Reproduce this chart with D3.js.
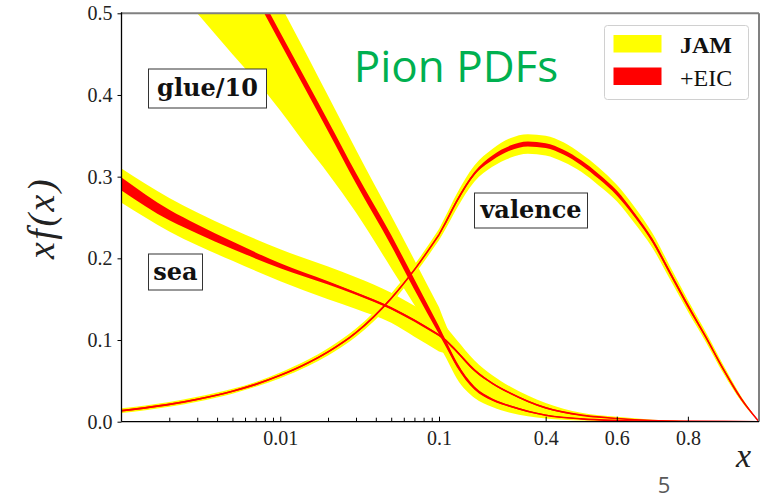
<!DOCTYPE html>
<html><head><meta charset="utf-8">
<script src="https://cdn.jsdelivr.net/npm/d3@7"></script>
<style>body{margin:0;background:#fff}</style>
</head><body><svg id="c" width="767" height="501"></svg>
<script>
// ---------- data ----------
const yTicks = [0, 0.1, 0.2, 0.3, 0.4, 0.5];
const xLogTicks = [0.01, 0.1];
const xLogTickLabels = ["0.01", "0.1"];
const xLogMinor = [0.002,0.003,0.004,0.005,0.006,0.007,0.008,0.009,0.02,0.03,0.04,0.05,0.06,0.07,0.08,0.09];
const xLinTicks = [0.4, 0.6, 0.8];
const xLinTickLabels = ["0.4", "0.6", "0.8"];
const seriesNames = ["JAM", "+EIC"];
const curveLabels = ["glue/10", "sea", "valence"];

const valX = [0.001,0.002,0.003,0.005,0.007,0.01,0.015,0.02,0.03,0.05,0.07,0.1,0.12,0.15,0.2,0.25,0.3,0.35,0.4,0.45,0.5,0.55,0.6,0.65,0.7,0.75,0.8,0.85,0.9,0.95,1.0];
const valMid = [0.0135,0.0212,0.0274,0.0373,0.0457,0.0568,0.0722,0.0855,0.109,0.151,0.186,0.229,0.245,0.270,0.304,0.323,0.335,0.340,0.338,0.330,0.317,0.300,0.280,0.253,0.222,0.182,0.142,0.104,0.064,0.028,0.0];
const valJamLo = [0.0105,0.0182,0.0244,0.0343,0.0427,0.0533,0.0682,0.081,0.104,0.145,0.180,0.222,0.237,0.261,0.294,0.312,0.323,0.328,0.326,0.318,0.306,0.289,0.270,0.243,0.213,0.174,0.135,0.098,0.059,0.025,0.0];
const valJamHi = [0.0165,0.0242,0.0304,0.0403,0.0487,0.0603,0.0762,0.090,0.114,0.157,0.192,0.236,0.253,0.279,0.314,0.334,0.347,0.352,0.350,0.342,0.328,0.311,0.290,0.263,0.231,0.190,0.149,0.110,0.069,0.031,0.0];
const valEicLo = [0.0125,0.0202,0.0264,0.0363,0.0447,0.0558,0.0712,0.0845,0.108,0.150,0.185,0.228,0.243,0.268,0.302,0.320,0.332,0.337,0.335,0.327,0.314,0.297,0.277,0.2505,0.2195,0.1795,0.1395,0.1025,0.0625,0.0265,0.0];
const valEicHi = [0.0145,0.0222,0.0284,0.0383,0.0467,0.0578,0.0732,0.0865,0.110,0.152,0.187,0.230,0.247,0.272,0.306,0.326,0.338,0.343,0.341,0.333,0.320,0.303,0.283,0.2555,0.2245,0.1845,0.1445,0.1055,0.0655,0.0295,0.0];

const seaX = [0.001,0.002,0.003,0.005,0.01,0.02,0.03,0.05,0.07,0.1,0.12,0.15,0.2,0.25,0.3,0.4,0.5,0.6,0.7,0.8,0.9,1.0];
const seaMid = [0.291,0.253,0.236,0.216,0.191,0.170,0.157,0.139,0.124,0.106,0.099,0.086,0.063,0.047,0.035,0.017,0.008,0.004,0.0015,0.0005,0.0001,0.0];
const seaJamLo = [0.268,0.233,0.216,0.197,0.172,0.150,0.138,0.121,0.104,0.086,0.083,0.073,0.052,0.038,0.027,0.012,0.005,0.002,0.0007,0.0002,0.0,0.0];
const seaJamHi = [0.310,0.274,0.256,0.236,0.211,0.190,0.177,0.158,0.142,0.127,0.116,0.100,0.075,0.057,0.043,0.023,0.011,0.006,0.0025,0.0008,0.0002,0.0];
const seaEicLo = [0.283,0.2465,0.2305,0.2115,0.188,0.168,0.1555,0.1375,0.1225,0.1045,0.0975,0.0845,0.0615,0.046,0.034,0.016,0.0075,0.0037,0.0013,0.0004,0.0001,0.0];
const seaEicHi = [0.299,0.2595,0.2415,0.2205,0.194,0.172,0.1585,0.1405,0.1255,0.1075,0.1005,0.0875,0.0645,0.048,0.036,0.018,0.0085,0.0043,0.0017,0.0006,0.0001,0.0];

const glueX = [0.003,0.005,0.008,0.01,0.015,0.02,0.03,0.05,0.07,0.1,0.12,0.15,0.2,0.25,0.3,0.4,0.5,0.6,0.7,0.8,0.9,1.0];
const glueMid = [0.658,0.578,0.505,0.470,0.407,0.362,0.298,0.222,0.168,0.112,0.095,0.070,0.041,0.027,0.019,0.008,0.0035,0.0015,0.0006,0.0002,0.0001,0.0];
const glueJamLo = [0.500,0.450,0.405,0.381,0.335,0.304,0.256,0.188,0.143,0.094,0.078,0.053,0.029,0.018,0.011,0.004,0.0015,0.0005,0.0002,0.0,0.0,0.0];
const glueJamHi = [0.703,0.621,0.548,0.511,0.446,0.399,0.333,0.252,0.198,0.140,0.118,0.090,0.057,0.040,0.029,0.014,0.007,0.003,0.0012,0.0004,0.0001,0.0];
const glueEicLo = [0.6515,0.5715,0.4985,0.4635,0.4005,0.3555,0.2915,0.2155,0.1615,0.107,0.091,0.067,0.039,0.0255,0.018,0.0072,0.003,0.0012,0.0004,0.0001,0.0,0.0];
const glueEicHi = [0.6645,0.5845,0.5115,0.4765,0.4135,0.3685,0.3045,0.2285,0.1745,0.117,0.099,0.073,0.043,0.0285,0.020,0.0088,0.004,0.0018,0.0008,0.0003,0.0001,0.0];

// ---------- layout ----------
const svg = d3.select('#c');
const L = 121.5, R = 759, T = 13.3, B = 421.7, XB = 439, XBREAK = 0.1;
const xLog = d3.scaleLog().domain([0.001, XBREAK]).range([L, XB]);
const xLin = d3.scaleLinear().domain([XBREAK, 1]).range([XB, R]);
const xs = v => (v <= XBREAK ? xLog(v) : xLin(v));
const y = d3.scaleLinear().domain([0, 0.5]).range([B, T]);

const YEL = '#ffff00', RED = '#ff0000';
const SERIF = '"Liberation Serif", "Times New Roman", serif';

svg.append('defs').append('clipPath').attr('id', 'clip')
  .append('rect').attr('x', L).attr('y', T).attr('width', R - L).attr('height', B - T);
const plot = svg.append('g').attr('clip-path', 'url(#clip)');

// the two halves of the axis (log / linear) are drawn as separate smooth pieces
function pieces(X) {
  const a = [], b = [];
  X.forEach((v, i) => { if (v <= XBREAK) a.push(i); if (v >= XBREAK) b.push(i); });
  return [a, b];
}
function band(X, lo, hi, color) {
  const area = d3.area()
    .x(i => xs(X[i])).y0(i => y(lo[i])).y1(i => y(hi[i]))
    .curve(d3.curveMonotoneX);
  pieces(X).forEach(idx => plot.append('path').datum(idx).attr('d', area).attr('fill', color));
}
function line(X, mid) {
  const ln = d3.line().x(i => xs(X[i])).y(i => y(mid[i])).curve(d3.curveMonotoneX);
  pieces(X).forEach(idx => plot.append('path').datum(idx).attr('d', ln).attr('fill', 'none')
    .attr('stroke', RED).attr('stroke-width', 1.6).attr('stroke-linecap', 'butt'));
}

// yellow bands (JAM)
band(seaX, seaJamLo, seaJamHi, YEL);
band(glueX, glueJamLo, glueJamHi, YEL);
band(valX, valJamLo, valJamHi, YEL);
// red bands (+EIC)
band(seaX, seaEicLo, seaEicHi, RED);
band(glueX, glueEicLo, glueEicHi, RED);
band(valX, valEicLo, valEicHi, RED);
line(seaX, seaMid);
line(glueX, glueMid);
line(valX, valMid);

// ---------- axes ----------
function styleAxis(g, size) {
  g.select('.domain').remove();
  g.selectAll('.tick line').attr('stroke', '#000').attr('stroke-width', 1);
  g.selectAll('.tick text').attr('font-family', SERIF).attr('font-size', size).attr('fill', '#222');
}
const yAx = svg.append('g').attr('transform', `translate(${L},0)`)
  .call(d3.axisLeft(y).tickValues(yTicks).tickFormat(d3.format('.1f')).tickSize(4).tickPadding(5));
styleAxis(yAx, 20);

const xAx1 = svg.append('g').attr('transform', `translate(0,${B})`)
  .call(d3.axisBottom(xLog).tickValues(xLogTicks).tickFormat((d, i) => xLogTickLabels[i])
    .tickSizeInner(-5).tickSizeOuter(0).tickPadding(9));
styleAxis(xAx1, 20);
const xAxM = svg.append('g').attr('transform', `translate(0,${B})`)
  .call(d3.axisBottom(xLog).tickValues(xLogMinor).tickFormat('').tickSizeInner(-4).tickSizeOuter(0));
styleAxis(xAxM, 20);
const xAx2 = svg.append('g').attr('transform', `translate(0,${B})`)
  .call(d3.axisBottom(xLin).tickValues(xLinTicks).tickFormat((d, i) => xLinTickLabels[i])
    .tickSizeInner(-5).tickSizeOuter(0).tickPadding(9));
styleAxis(xAx2, 20);

// frame
svg.append('line').attr('x1', L).attr('x2', R).attr('y1', T).attr('y2', T).attr('stroke', '#808080').attr('stroke-width', 2);
svg.append('line').attr('x1', R).attr('x2', R).attr('y1', T).attr('y2', B).attr('stroke', '#808080').attr('stroke-width', 2);
svg.append('line').attr('x1', L).attr('x2', L).attr('y1', T - 1).attr('y2', B).attr('stroke', '#000').attr('stroke-width', 1.3);
svg.append('line').attr('x1', L).attr('x2', R).attr('y1', B).attr('y2', B).attr('stroke', '#000').attr('stroke-width', 1.3);

// axis titles
svg.append('text').attr('transform', 'translate(54,218) rotate(-90)').attr('text-anchor', 'middle')
  .attr('font-family', SERIF).attr('font-style', 'italic').attr('font-size', 38).attr('fill', '#222')
  .attr('letter-spacing', 2.5).text('xf(x)');
svg.append('text').attr('x', 743.5).attr('y', 467).attr('text-anchor', 'middle')
  .attr('font-family', SERIF).attr('font-style', 'italic').attr('font-size', 34).attr('fill', '#222').text('x');

// title
svg.append('text').attr('x', 456).attr('y', 82).attr('text-anchor', 'middle')
  .attr('font-family', '"Open Sans", sans-serif').attr('font-size', 44).attr('fill', '#00b050').text('Pion PDFs');

// curve labels
function boxLabel(txt, x0, y0, w, h, base) {
  svg.append('rect').attr('x', x0).attr('y', y0).attr('width', w).attr('height', h)
    .attr('fill', '#fff').attr('stroke', '#333').attr('stroke-width', 1);
  svg.append('text').attr('x', x0 + w / 2).attr('y', base).attr('text-anchor', 'middle')
    .attr('font-family', '"DejaVu Serif", serif').attr('font-weight', 'bold').attr('font-size', 24)
    .attr('fill', '#111').text(txt);
}
boxLabel(curveLabels[0], 148.5, 69, 118, 39, 96);
boxLabel(curveLabels[1], 148.5, 254, 54, 36, 280);
boxLabel(curveLabels[2], 474.5, 193, 113, 35, 218);

// legend
const lg = svg.append('g');
lg.append('rect').attr('x', 604.5).attr('y', 25.5).attr('width', 144).attr('height', 74).attr('rx', 3)
  .attr('fill', '#fff').attr('stroke', '#d0d0d0').attr('stroke-width', 1);
lg.append('rect').attr('x', 613.5).attr('y', 35).attr('width', 48).attr('height', 17.5).attr('fill', YEL);
lg.append('rect').attr('x', 613.5).attr('y', 67.5).attr('width', 48).attr('height', 17.5).attr('fill', RED);
lg.append('text').attr('x', 680).attr('y', 53).attr('font-family', SERIF).attr('font-weight', 'bold')
  .attr('font-size', 24).attr('fill', '#111').text(seriesNames[0]);
lg.append('text').attr('x', 680).attr('y', 86).attr('font-family', SERIF)
  .attr('font-size', 24).attr('fill', '#111').text(seriesNames[1]);

// page number
svg.append('text').attr('x', 664).attr('y', 493).attr('text-anchor', 'middle')
  .attr('font-family', '"Open Sans", sans-serif').attr('font-size', 22).attr('fill', '#595959').text('5');
</script></body></html>
